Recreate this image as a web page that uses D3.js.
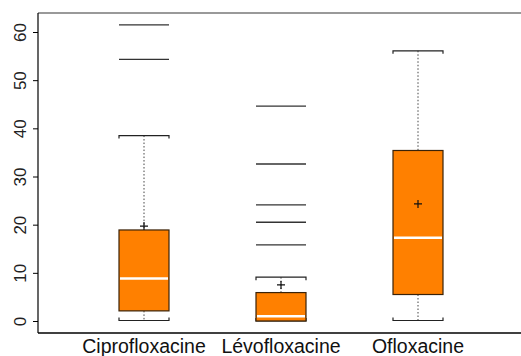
<!DOCTYPE html>
<html>
<head>
<meta charset="utf-8">
<script src="https://cdn.jsdelivr.net/npm/d3@7"></script>
<style>
  body { margin: 0; background: #fff; }
  svg { display: block; }
</style>
</head>
<body>
<div id="chart"></div>
<script>
// data
const drugs = ["Ciprofloxacine", "Lévofloxacine", "Ofloxacine"];
const whiskerLow = [0.1, 0, 0.1];
const q1 = [2.1, 0, 5.5];
const medians = [8.8, 1.0, 17.3];
const q3 = [18.9, 5.9, 35.4];
const whiskerHigh = [38.5, 9.1, 56.1];
const means = [19.7, 7.5, 24.3];
const outliers = [
    [54.3, 61.5],
    [15.8, 20.5, 24.1, 32.6, 44.6],
    []
];
const yTicks = [0, 10, 20, 30, 40, 50, 60];

const width = 521, height = 356;
const boxW = 50;
const orange = "#ff8000";

const svg = d3.select("#chart").append("svg")
    .attr("width", width)
    .attr("height", height);

const x = d3.scalePoint().domain(drugs).range([144, 418]);
const y = d3.scaleLinear().domain([0, 60]).range([321, 32]);

// frame (right side falls off the picture)
svg.append("line").attr("x1", 38).attr("x2", width).attr("y1", 13).attr("y2", 13)
    .attr("stroke", "#777").attr("stroke-width", 1.5);
svg.append("line").attr("x1", 38).attr("x2", width).attr("y1", 333).attr("y2", 333)
    .attr("stroke", "#000").attr("stroke-width", 1.5);

// y axis
const yAxis = svg.append("g")
    .attr("transform", "translate(38,0)")
    .call(d3.axisLeft(y).tickValues(yTicks).tickSize(5).tickSizeOuter(0).tickPadding(0));
yAxis.select(".domain").attr("d", "M0,13V333").attr("stroke", "#000").attr("stroke-width", 1.2);
yAxis.selectAll(".tick line").attr("stroke", "#000");
yAxis.selectAll(".tick text")
    .attr("x", 0).attr("dy", 0).attr("y", 0)
    .attr("transform", "translate(-12,0) rotate(-90)")
    .attr("text-anchor", "middle")
    .style("font-family", "Liberation Sans, Arial, sans-serif")
    .style("font-size", "17px")
    .attr("fill", "#222");

// x labels
svg.append("g").selectAll("text")
    .data(drugs)
    .enter()
    .append("text")
    .attr("x", d => x(d))
    .attr("y", 353)
    .attr("text-anchor", "middle")
    .style("font-family", "Liberation Sans, Arial, sans-serif")
    .style("font-size", "19.5px")
    .attr("fill", "#111")
    .text(d => d);

const groups = svg.append("g").selectAll("g")
    .data(drugs)
    .enter()
    .append("g")
    .attr("transform", d => `translate(${x(d)},0)`);

// whiskers (dotted)
groups.append("line")
    .attr("y1", (d, i) => y(whiskerHigh[i]))
    .attr("y2", (d, i) => y(q3[i]))
    .attr("stroke", "#444").attr("stroke-dasharray", "1.5,2");
groups.append("line")
    .attr("y1", (d, i) => y(q1[i]))
    .attr("y2", (d, i) => y(whiskerLow[i]))
    .attr("stroke", "#444").attr("stroke-dasharray", "1.5,2");

// caps with little end ticks
const cap = (yv, dir) => `M${-boxW / 2},${yv + dir * 3}V${yv}H${boxW / 2}V${yv + dir * 3}`;
groups.append("path")
    .attr("d", (d, i) => cap(y(whiskerHigh[i]), 1))
    .attr("fill", "none").attr("stroke", "#222").attr("stroke-width", 1.2);
groups.append("path")
    .attr("d", (d, i) => cap(y(whiskerLow[i]), -1))
    .attr("fill", "none").attr("stroke", "#222").attr("stroke-width", 1.2);

// boxes
groups.append("rect")
    .attr("x", -boxW / 2)
    .attr("width", boxW)
    .attr("y", (d, i) => y(q3[i]))
    .attr("height", (d, i) => y(q1[i]) - y(q3[i]))
    .attr("fill", orange)
    .attr("stroke", "#3a2208")
    .attr("stroke-width", 1.2);

// medians
groups.append("line")
    .attr("x1", -boxW / 2 + 1).attr("x2", boxW / 2 - 1)
    .attr("y1", (d, i) => y(medians[i]))
    .attr("y2", (d, i) => y(medians[i]))
    .attr("stroke", "#fff").attr("stroke-width", 2.5);

// means as plus signs
groups.append("path")
    .attr("d", (d, i) => { const m = y(means[i]); return `M-4,${m}H4M0,${m - 4}V${m + 4}`; })
    .attr("stroke", "#111").attr("stroke-width", 1.2);

// outliers drawn as box-wide dashes
groups.selectAll(".out")
    .data((d, i) => outliers[i])
    .enter()
    .append("line")
    .attr("class", "out")
    .attr("x1", -boxW / 2).attr("x2", boxW / 2)
    .attr("y1", v => y(v)).attr("y2", v => y(v))
    .attr("stroke", "#333").attr("stroke-width", 1.3);
</script>
</body>
</html>
